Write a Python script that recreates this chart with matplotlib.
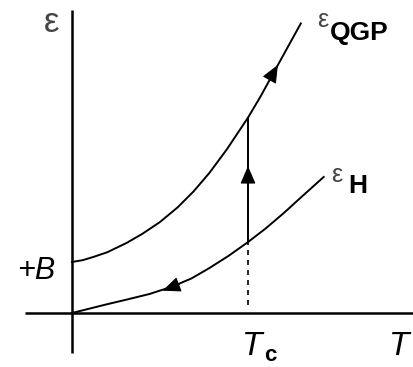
import matplotlib
matplotlib.use("Agg")
import matplotlib.pyplot as plt
import numpy as np

# energy density vs temperature (schematic), T in units of Tc
T_qgp = [0.0, 0.06, 0.12, 0.20, 0.31, 0.40, 0.50, 0.60, 0.69, 0.78, 0.88,
         0.94, 1.00, 1.07, 1.14, 1.22, 1.30]
eps_qgp = [0.29, 0.30, 0.318, 0.345, 0.398, 0.45, 0.517, 0.60, 0.69, 0.795,
           0.93, 1.02, 1.11, 1.228, 1.355, 1.50, 1.645]

T_had = [0.0, 0.06, 0.12, 0.20, 0.31, 0.44, 0.57, 0.68, 0.78, 0.89, 1.00,
         1.10, 1.20, 1.31, 1.43]
eps_had = [0.0, 0.015, 0.03, 0.05, 0.076, 0.108, 0.15, 0.197, 0.255, 0.325,
           0.403, 0.48, 0.565, 0.665, 0.773]

Tc = 1.0
eps_H_Tc = 0.403
eps_Q_Tc = 1.11

plt.rcParams['font.family'] = ['Liberation Sans', 'DejaVu Sans']

fig = plt.figure(figsize=(4.13, 3.67), dpi=100)
ax = fig.add_axes([0, 0, 1, 1])
ax.set_xlim(-0.409, 1.9375)
ax.set_ylim(-0.3068, 1.7784)
ax.axis('off')

# axes
ax.plot([0, 0], [-0.227, 1.722], color='k', lw=1.8, solid_capstyle='butt')
ax.plot([-0.267, 1.94], [0, 0], color='k', lw=1.8, solid_capstyle='butt')

# curves
ax.plot(T_qgp, eps_qgp, color='k', lw=1.4)
ax.plot(T_had, eps_had, color='k', lw=1.4)

# transition at Tc
ax.plot([Tc, Tc], [eps_H_Tc, eps_Q_Tc], color='k', lw=1.4)
ax.plot([Tc, Tc], [0.045, eps_H_Tc], color='k', lw=1.2, ls=(0, (3, 3)))

# arrow heads
arw = dict(arrowstyle='-|>,head_length=0.7,head_width=0.3', color='k', lw=0.8,
           mutation_scale=16, shrinkA=0, shrinkB=0)
ax.annotate('', xy=(Tc, 0.835), xytext=(Tc, 0.74), arrowprops=arw)
ax.annotate('', xy=(1.17, 1.41), xytext=(1.125, 1.33), arrowprops=arw)
ax.annotate('', xy=(0.515, 0.127), xytext=(0.61, 0.163), arrowprops=arw)

# labels
ax.text(-0.114, 1.653, 'ε', fontsize=25, color='#444444', ha='center', va='center')
ax.text(1.425, 1.665, 'ε', fontsize=18, color='#444444', ha='center', va='center')
ax.text(1.466, 1.551, 'QGP', fontsize=19, fontweight='bold', ha='left', va='baseline')
ax.text(1.506, 0.785, 'ε', fontsize=18, color='#444444', ha='center', va='center')
ax.text(1.568, 0.682, 'H', fontsize=19, fontweight='bold', ha='left', va='baseline')
ax.text(-0.097, 0.239, '+B', fontsize=22, style='italic', ha='right', va='center')
ax.text(0.965, -0.239, 'T', fontsize=24, style='italic', ha='left', va='baseline')
ax.text(1.09, -0.27, 'c', fontsize=16, fontweight='bold', ha='left', va='baseline')
ax.text(1.80, -0.239, 'T', fontsize=24, style='italic', ha='left', va='baseline')

fig.savefig('out.png', dpi=100)
